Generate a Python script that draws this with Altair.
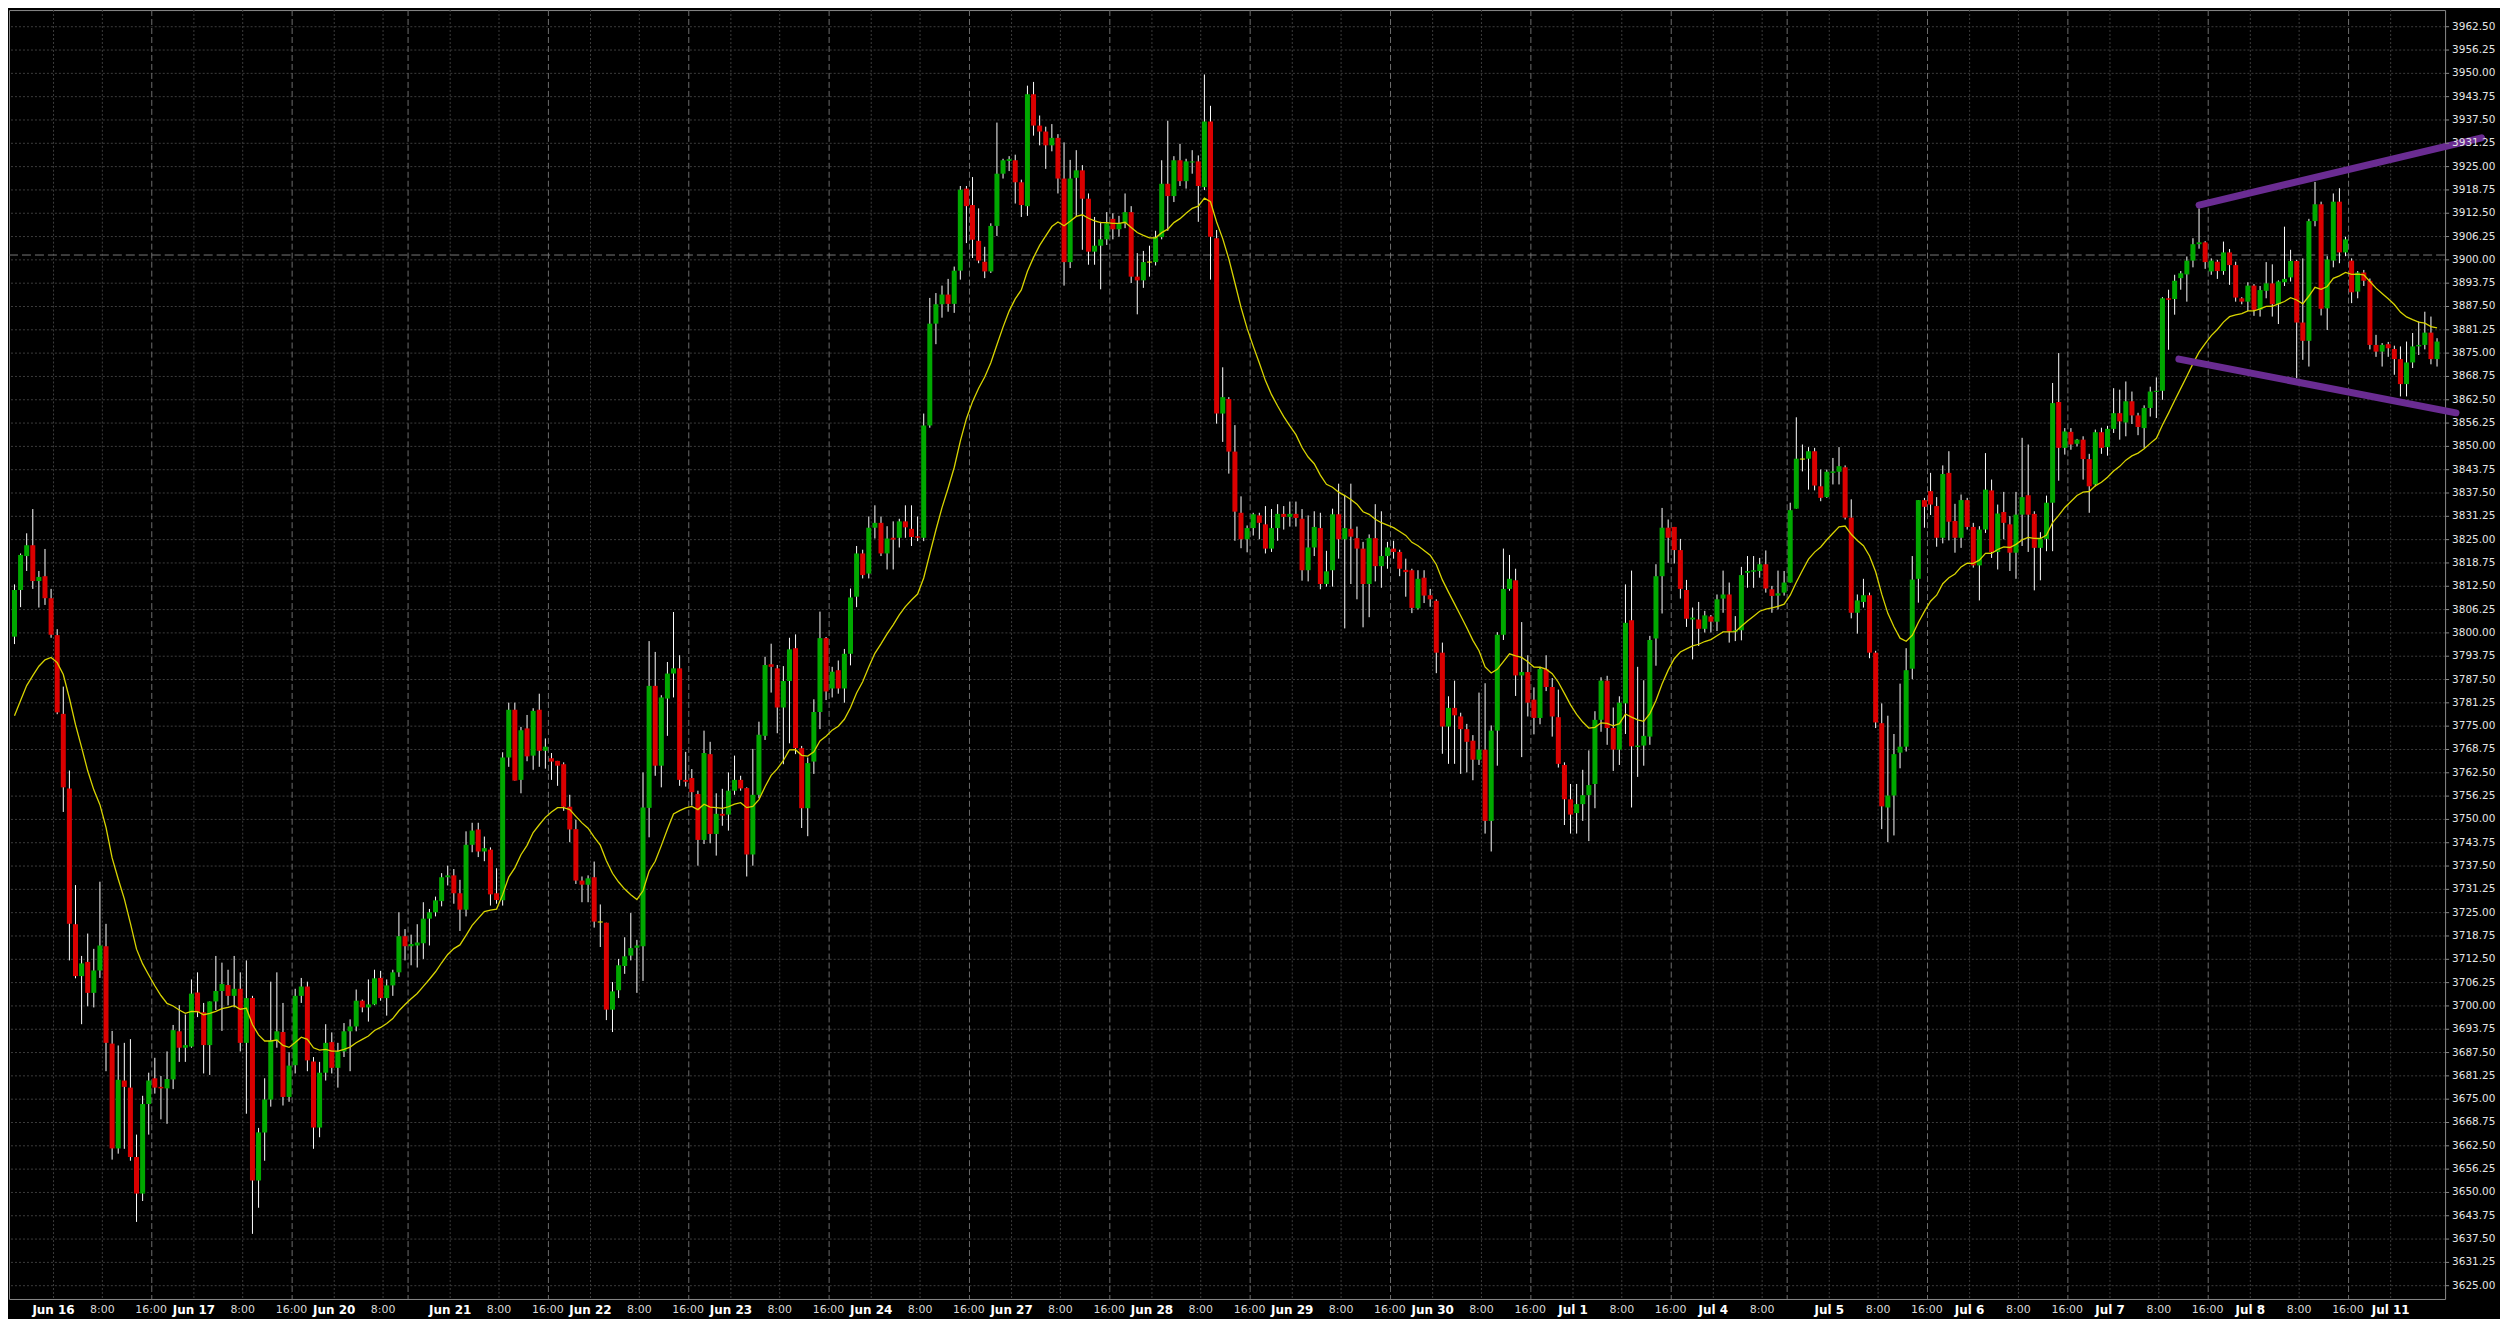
import altair as alt
import pandas as pd

# ---------------- data (hourly bars, index 0..397) ----------------
OPEN = [
    3799.0, 3811.5, 3820.6, 3823.5, 3813.9, 3815.2, 3809.3, 3799.4, 3778.3, 3758.3,
    3721.9, 3708.0, 3711.8, 3703.5, 3709.5, 3716.0, 3689.9, 3661.8, 3680.0, 3678.1,
    3659.5, 3649.7, 3673.7, 3680.6, 3678.3, 3677.9, 3680.3, 3693.2, 3688.8, 3689.1,
    3703.6, 3698.3, 3689.5, 3701.2, 3704.0, 3705.6, 3702.7, 3704.6, 3690.1, 3702.1,
    3653.2, 3666.1, 3674.9, 3690.7, 3693.0, 3675.6, 3684.1, 3702.7, 3705.2, 3685.1,
    3667.4, 3682.1, 3690.3, 3683.4, 3687.8, 3693.2, 3694.5, 3701.4, 3699.6, 3700.4,
    3707.5, 3702.1, 3705.5, 3709.0, 3718.7, 3716.0, 3716.2, 3716.8, 3723.4, 3725.1,
    3728.1, 3734.5, 3735.0, 3730.2, 3725.8, 3743.2, 3747.3, 3741.4, 3741.9, 3730.2,
    3728.3, 3766.6, 3779.4, 3760.6, 3774.4, 3767.1, 3779.4, 3768.4, 3766.4, 3765.7,
    3764.8, 3753.4, 3747.4, 3733.6, 3732.5, 3734.5, 3722.5, 3722.3, 3699.0, 3704.2,
    3710.7, 3713.5, 3715.6, 3716.0, 3753.1, 3785.8, 3764.4, 3782.4, 3789.1, 3790.5,
    3760.6, 3761.1, 3756.8, 3744.5, 3767.5, 3746.1, 3751.5, 3751.3, 3757.7, 3760.6,
    3758.4, 3740.6, 3756.6, 3772.4, 3791.6, 3790.5, 3780.0, 3787.1, 3795.9, 3769.1,
    3753.0, 3765.5, 3778.8, 3798.6, 3785.1, 3790.0, 3785.1, 3794.4, 3809.7, 3821.3,
    3815.9, 3828.2, 3829.5, 3821.3, 3825.5, 3825.5, 3829.9, 3827.9, 3825.9, 3825.5,
    3855.6, 3882.9, 3888.1, 3890.7, 3888.2, 3897.1, 3919.1, 3914.7, 3905.1, 3899.5,
    3896.9, 3909.1, 3923.1, 3926.5, 3926.7, 3920.8, 3914.4, 3944.4, 3936.0, 3934.4,
    3930.7, 3932.7, 3921.8, 3899.4, 3922.0, 3924.0, 3916.4, 3902.2, 3903.8, 3905.5,
    3911.0, 3908.2, 3909.8, 3912.8, 3895.5, 3894.5, 3899.4, 3899.4, 3906.1, 3920.4,
    3917.1, 3926.7, 3921.1, 3926.1, 3926.4, 3919.5, 3937.1, 3905.8, 3858.8, 3862.7,
    3848.6, 3832.2, 3825.1, 3828.1, 3831.5, 3829.1, 3822.6, 3828.1, 3831.9, 3831.1,
    3831.9, 3830.6, 3816.8, 3822.9, 3828.1, 3813.1, 3816.8, 3831.8, 3825.1, 3827.9,
    3825.4, 3822.6, 3813.1, 3825.4, 3817.9, 3820.6, 3822.6, 3821.7, 3816.9, 3816.8,
    3806.6, 3814.8, 3810.1, 3808.6, 3794.7, 3774.9, 3779.9, 3777.6, 3774.2, 3771.1,
    3766.0, 3768.7, 3749.6, 3773.8, 3799.5, 3811.8, 3814.1, 3788.6, 3789.5, 3782.1,
    3777.2, 3790.3, 3785.5, 3777.4, 3764.6, 3755.4, 3751.7, 3754.1, 3756.5, 3759.5,
    3776.7, 3787.2, 3774.5, 3768.7, 3781.1, 3803.4, 3769.4, 3769.8, 3772.2, 3798.5,
    3815.2, 3828.2, 3828.4, 3822.2, 3811.5, 3803.6, 3803.6, 3801.1, 3804.4, 3803.0,
    3809.2, 3810.3, 3800.3, 3800.7, 3816.1, 3816.4, 3816.6, 3818.4, 3811.7, 3810.0,
    3810.8, 3813.5, 3833.3, 3846.6, 3846.7, 3848.7, 3839.3, 3836.4, 3842.9, 3843.2,
    3844.4, 3830.9, 3805.4, 3808.3, 3810.1, 3794.7, 3775.8, 3753.2, 3756.4, 3767.9,
    3769.5, 3790.4, 3814.5, 3835.6, 3838.0, 3834.0, 3825.5, 3842.9, 3830.0, 3825.5,
    3835.6, 3828.4, 3818.1, 3827.7, 3838.2, 3821.7, 3832.4, 3829.1, 3821.5, 3831.7,
    3836.9, 3831.9, 3822.8, 3825.2, 3834.9, 3861.9, 3849.6, 3853.9, 3850.7, 3851.8,
    3846.6, 3839.8, 3853.8, 3849.8, 3854.7, 3858.9, 3856.4, 3862.1, 3858.3, 3854.9,
    3860.3, 3864.6, 3864.9, 3889.7, 3889.5, 3895.1, 3896.1, 3899.8, 3904.2, 3904.7,
    3896.9, 3899.5, 3897.0, 3902.0, 3898.6, 3889.7, 3888.8, 3893.1, 3886.6, 3891.7,
    3893.7, 3888.1, 3894.0, 3895.3, 3899.7, 3883.2, 3878.3, 3910.4, 3914.9, 3887.0,
    3899.8, 3915.6, 3902.0, 3899.8, 3891.5, 3896.6, 3894.4, 3877.2, 3875.4, 3877.4,
    3876.1, 3873.4, 3866.7, 3872.5, 3876.8, 3877.2, 3880.5, 3873.4,
]
HIGH = [
    3813.0, 3821.3, 3826.7, 3833.2, 3816.6, 3822.5, 3811.8, 3801.0, 3785.6, 3763.1,
    3732.4, 3713.4, 3719.4, 3715.3, 3733.3, 3722.0, 3693.3, 3689.4, 3690.1, 3691.1,
    3665.5, 3675.9, 3682.1, 3686.1, 3681.2, 3687.8, 3694.9, 3700.2, 3697.7, 3707.1,
    3709.0, 3700.8, 3701.2, 3713.4, 3711.6, 3709.7, 3713.4, 3709.0, 3712.2, 3702.7,
    3667.3, 3680.6, 3706.5, 3709.0, 3700.8, 3687.6, 3704.6, 3707.5, 3706.5, 3686.3,
    3685.0, 3695.1, 3692.9, 3690.1, 3695.4, 3696.4, 3704.4, 3701.7, 3707.1, 3709.7,
    3709.4, 3707.1, 3709.7, 3725.1, 3720.6, 3719.1, 3721.9, 3727.8, 3726.0, 3729.3,
    3735.6, 3737.6, 3736.7, 3733.8, 3746.8, 3749.1, 3749.1, 3745.4, 3742.5, 3736.9,
    3768.0, 3781.3, 3781.3, 3774.8, 3778.0, 3779.8, 3783.7, 3771.7, 3767.8, 3765.7,
    3765.3, 3756.6, 3749.9, 3734.7, 3735.0, 3738.7, 3727.2, 3722.3, 3706.4, 3712.6,
    3718.4, 3724.9, 3717.7, 3762.6, 3797.8, 3794.9, 3783.3, 3792.2, 3805.6, 3794.0,
    3768.1, 3763.5, 3757.7, 3773.8, 3770.8, 3757.0, 3758.2, 3762.6, 3767.1, 3761.7,
    3758.6, 3768.9, 3776.2, 3793.6, 3797.1, 3791.4, 3791.1, 3798.7, 3799.6, 3769.7,
    3766.6, 3782.2, 3805.7, 3798.9, 3790.9, 3792.6, 3795.7, 3811.9, 3823.3, 3822.3,
    3831.2, 3834.2, 3831.2, 3828.6, 3829.9, 3830.6, 3834.2, 3834.2, 3831.2, 3858.8,
    3889.8, 3891.1, 3893.1, 3894.9, 3898.2, 3919.8, 3919.8, 3922.2, 3913.8, 3903.5,
    3909.8, 3936.8, 3927.1, 3927.8, 3928.2, 3921.5, 3946.7, 3947.7, 3938.7, 3935.7,
    3936.4, 3933.7, 3931.5, 3926.8, 3929.4, 3925.4, 3917.8, 3911.5, 3910.2, 3912.8,
    3912.5, 3911.8, 3917.8, 3914.4, 3901.8, 3902.4, 3903.8, 3907.8, 3926.7, 3937.3,
    3927.8, 3931.1, 3927.1, 3929.4, 3928.0, 3949.7, 3941.3, 3908.0, 3871.2, 3863.2,
    3855.7, 3836.6, 3828.8, 3832.2, 3832.2, 3834.0, 3833.2, 3834.5, 3834.0, 3835.2,
    3835.2, 3833.2, 3831.5, 3832.6, 3832.2, 3822.0, 3833.3, 3840.0, 3837.0, 3840.0,
    3828.5, 3824.4, 3826.4, 3834.5, 3832.6, 3824.4, 3824.7, 3822.3, 3819.9, 3817.2,
    3816.8, 3816.8, 3811.8, 3809.0, 3797.4, 3783.0, 3787.2, 3778.6, 3775.6, 3772.6,
    3784.0, 3786.5, 3775.2, 3800.2, 3822.6, 3820.9, 3817.2, 3802.9, 3794.0, 3785.4,
    3790.9, 3794.0, 3787.9, 3784.8, 3765.3, 3759.5, 3759.5, 3763.3, 3768.5, 3779.0,
    3788.1, 3788.5, 3780.0, 3783.0, 3813.0, 3816.7, 3790.9, 3787.3, 3799.2, 3818.4,
    3833.5, 3830.4, 3828.4, 3825.2, 3814.2, 3806.8, 3808.3, 3805.9, 3804.8, 3810.3,
    3816.7, 3813.5, 3804.5, 3817.7, 3820.6, 3820.6, 3820.1, 3822.1, 3812.6, 3816.7,
    3816.6, 3834.9, 3857.8, 3850.5, 3849.8, 3849.6, 3843.8, 3843.8, 3846.9, 3849.8,
    3844.9, 3835.8, 3810.3, 3814.5, 3810.8, 3795.2, 3781.1, 3777.8, 3772.9, 3786.4,
    3795.9, 3820.6, 3835.6, 3836.2, 3842.9, 3836.4, 3844.9, 3848.7, 3834.6, 3837.1,
    3836.2, 3829.5, 3828.6, 3848.2, 3841.1, 3834.4, 3837.8, 3831.3, 3837.8, 3852.3,
    3850.5, 3832.6, 3827.0, 3836.8, 3867.0, 3875.0, 3854.9, 3854.9, 3852.0, 3852.7,
    3848.0, 3854.5, 3855.0, 3855.5, 3865.6, 3865.2, 3867.4, 3864.7, 3859.0, 3861.0,
    3866.0, 3868.5, 3890.0, 3892.0, 3896.0, 3897.0, 3900.9, 3905.8, 3913.8, 3905.0,
    3900.4, 3900.0, 3904.9, 3902.9, 3899.5, 3890.0, 3894.0, 3893.5, 3893.0, 3899.4,
    3898.8, 3894.5, 3908.9, 3902.7, 3900.0, 3900.4, 3911.0, 3920.9, 3915.6, 3901.0,
    3917.8, 3919.2, 3906.2, 3900.4, 3897.0, 3897.3, 3895.0, 3879.9, 3877.7, 3878.0,
    3877.0, 3876.8, 3878.1, 3880.4, 3883.5, 3886.1, 3884.8, 3879.0,
]
LOW = [
    3797.0, 3806.9, 3816.6, 3811.8, 3806.8, 3807.5, 3798.7, 3778.2, 3752.0, 3712.2,
    3707.4, 3695.1, 3699.9, 3699.6, 3707.5, 3682.5, 3658.8, 3660.4, 3661.7, 3658.5,
    3642.1, 3647.7, 3665.5, 3676.5, 3669.6, 3668.4, 3677.7, 3685.0, 3685.0, 3688.8,
    3697.0, 3681.9, 3681.5, 3698.9, 3693.3, 3700.2, 3699.6, 3687.8, 3671.1, 3638.9,
    3645.9, 3658.5, 3673.0, 3688.8, 3673.3, 3674.3, 3681.9, 3700.8, 3682.5, 3661.7,
    3664.8, 3680.0, 3681.9, 3678.1, 3686.3, 3682.5, 3693.2, 3698.3, 3695.8, 3700.2,
    3701.4, 3697.4, 3702.7, 3707.8, 3712.2, 3710.9, 3710.3, 3712.6, 3716.2, 3724.0,
    3726.7, 3732.3, 3727.4, 3720.1, 3724.0, 3741.2, 3739.9, 3738.8, 3726.9, 3727.4,
    3726.9, 3764.1, 3760.4, 3757.0, 3765.6, 3763.3, 3764.1, 3763.6, 3760.6, 3759.0,
    3752.3, 3743.9, 3732.7, 3727.8, 3727.8, 3721.0, 3715.8, 3696.2, 3693.0, 3702.1,
    3708.6, 3712.2, 3703.5, 3706.7, 3745.2, 3761.7, 3758.6, 3772.4, 3782.7, 3759.0,
    3758.8, 3753.7, 3737.6, 3743.4, 3743.6, 3740.3, 3748.3, 3747.0, 3756.6, 3757.7,
    3734.7, 3737.6, 3755.7, 3771.3, 3784.0, 3773.1, 3764.8, 3770.4, 3767.5, 3747.7,
    3745.5, 3762.2, 3774.2, 3782.0, 3782.7, 3783.7, 3781.3, 3791.3, 3806.9, 3814.6,
    3814.6, 3825.3, 3820.6, 3817.0, 3817.0, 3822.9, 3825.5, 3823.3, 3824.6, 3824.6,
    3855.0, 3877.4, 3884.5, 3886.1, 3885.8, 3894.7, 3904.5, 3900.5, 3899.1, 3895.1,
    3896.5, 3906.4, 3921.8, 3923.8, 3915.1, 3911.5, 3911.8, 3933.3, 3930.7, 3924.4,
    3929.1, 3917.8, 3893.1, 3897.8, 3911.8, 3902.7, 3898.7, 3898.7, 3892.1, 3904.0,
    3905.5, 3906.2, 3908.5, 3893.8, 3885.4, 3892.5, 3895.5, 3898.5, 3905.5, 3907.8,
    3915.5, 3919.8, 3919.1, 3923.1, 3910.2, 3918.7, 3894.7, 3856.1, 3851.2, 3842.7,
    3824.7, 3822.7, 3821.6, 3826.1, 3825.1, 3821.3, 3821.7, 3824.7, 3827.7, 3828.5,
    3828.5, 3814.0, 3813.8, 3820.6, 3811.7, 3812.4, 3812.4, 3819.9, 3801.2, 3813.1,
    3809.0, 3801.5, 3804.2, 3813.8, 3812.1, 3817.2, 3819.9, 3815.2, 3809.7, 3805.3,
    3806.3, 3808.0, 3807.0, 3789.2, 3767.6, 3764.9, 3764.9, 3762.2, 3762.6, 3760.5,
    3764.6, 3746.2, 3741.4, 3764.4, 3798.1, 3811.3, 3783.1, 3766.7, 3777.6, 3772.8,
    3775.5, 3784.4, 3772.2, 3763.9, 3748.5, 3746.2, 3746.2, 3749.6, 3744.2, 3753.0,
    3773.5, 3770.0, 3763.0, 3764.6, 3772.9, 3753.2, 3761.4, 3764.4, 3770.0, 3791.2,
    3805.2, 3818.8, 3818.6, 3809.2, 3801.6, 3792.9, 3796.5, 3800.1, 3800.1, 3800.5,
    3805.4, 3797.4, 3797.8, 3798.0, 3812.1, 3812.1, 3814.8, 3810.8, 3805.4, 3806.3,
    3810.0, 3813.5, 3833.3, 3843.3, 3838.4, 3838.2, 3835.3, 3836.2, 3839.8, 3839.8,
    3830.4, 3803.9, 3799.8, 3806.8, 3793.2, 3774.5, 3747.4, 3743.9, 3745.7, 3763.7,
    3768.2, 3787.6, 3808.1, 3828.2, 3831.6, 3823.1, 3824.0, 3824.8, 3821.5, 3822.8,
    3827.7, 3817.5, 3808.7, 3826.8, 3820.1, 3817.0, 3825.1, 3816.6, 3814.5, 3823.3,
    3821.7, 3811.4, 3814.1, 3821.9, 3821.9, 3840.8, 3847.8, 3849.1, 3850.0, 3841.1,
    3832.2, 3839.3, 3848.0, 3847.5, 3853.6, 3851.8, 3852.7, 3856.0, 3853.0, 3849.6,
    3858.0, 3857.6, 3862.5, 3875.9, 3885.3, 3892.0, 3888.8, 3898.0, 3903.0, 3897.6,
    3896.0, 3894.9, 3896.0, 3893.3, 3888.8, 3888.1, 3886.3, 3885.0, 3884.8, 3889.7,
    3884.8, 3882.8, 3893.0, 3894.2, 3868.3, 3873.2, 3871.4, 3909.0, 3885.1, 3881.2,
    3898.0, 3899.1, 3901.0, 3888.4, 3889.7, 3893.0, 3876.0, 3874.0, 3871.4, 3874.0,
    3869.2, 3863.4, 3863.4, 3871.0, 3874.5, 3876.0, 3872.0, 3871.4,
]
CLOSE = [
    3811.5, 3820.9, 3823.5, 3813.9, 3815.0, 3809.3, 3799.5, 3778.7, 3758.6, 3722.0,
    3708.0, 3711.4, 3703.5, 3709.5, 3716.2, 3690.1, 3661.8, 3680.2, 3678.3, 3659.5,
    3649.7, 3673.7, 3680.0, 3678.1, 3677.9, 3680.4, 3693.5, 3688.8, 3689.5, 3703.3,
    3698.3, 3689.5, 3701.2, 3704.0, 3705.9, 3702.7, 3704.6, 3690.1, 3702.1, 3653.2,
    3666.1, 3674.9, 3690.7, 3693.2, 3675.6, 3684.0, 3702.7, 3705.2, 3685.4, 3667.4,
    3682.1, 3690.1, 3683.4, 3687.8, 3693.2, 3694.5, 3701.4, 3699.6, 3700.4, 3707.4,
    3702.1, 3705.5, 3709.0, 3718.7, 3716.0, 3716.6, 3717.0, 3723.4, 3725.1, 3728.3,
    3734.5, 3735.0, 3730.2, 3725.8, 3743.2, 3747.0, 3741.4, 3742.3, 3729.9, 3728.4,
    3766.6, 3779.4, 3760.4, 3773.9, 3766.9, 3779.1, 3768.4, 3769.5, 3765.5, 3764.4,
    3753.4, 3747.3, 3733.6, 3732.5, 3734.2, 3722.6, 3722.5, 3699.0, 3703.9, 3710.9,
    3713.3, 3715.5, 3716.2, 3753.2, 3785.8, 3764.4, 3782.7, 3789.1, 3790.5, 3760.6,
    3760.1, 3757.3, 3744.5, 3767.8, 3746.1, 3751.5, 3751.0, 3757.7, 3760.6, 3758.3,
    3740.6, 3756.6, 3772.7, 3791.4, 3790.9, 3780.0, 3787.1, 3795.6, 3769.1, 3753.0,
    3765.1, 3778.8, 3798.6, 3784.3, 3789.6, 3785.1, 3794.4, 3809.5, 3821.3, 3815.5,
    3828.2, 3829.5, 3821.3, 3825.3, 3825.0, 3829.9, 3828.3, 3825.7, 3825.5, 3855.6,
    3882.9, 3888.1, 3890.7, 3888.2, 3897.1, 3918.8, 3914.4, 3905.4, 3899.8, 3896.9,
    3909.1, 3923.1, 3926.7, 3927.0, 3920.8, 3914.7, 3944.4, 3936.0, 3934.4, 3930.7,
    3932.7, 3921.8, 3899.4, 3921.8, 3924.0, 3916.4, 3902.2, 3903.8, 3905.5, 3909.8,
    3908.2, 3909.8, 3912.8, 3895.5, 3894.5, 3899.4, 3899.4, 3906.1, 3920.4, 3917.1,
    3926.7, 3921.1, 3926.4, 3926.4, 3919.8, 3937.1, 3906.2, 3858.8, 3863.2, 3848.6,
    3832.5, 3825.1, 3828.1, 3831.8, 3829.5, 3822.6, 3828.1, 3831.9, 3831.1, 3831.9,
    3830.8, 3816.8, 3822.9, 3828.4, 3813.1, 3816.5, 3831.8, 3825.1, 3828.1, 3825.8,
    3822.6, 3813.1, 3825.4, 3817.9, 3820.6, 3822.9, 3821.7, 3817.2, 3816.3, 3806.7,
    3814.5, 3810.0, 3809.0, 3794.7, 3774.9, 3779.9, 3777.9, 3774.2, 3770.8, 3766.0,
    3768.7, 3749.6, 3773.8, 3799.5, 3811.8, 3814.5, 3788.6, 3789.5, 3781.3, 3777.2,
    3790.3, 3785.5, 3777.6, 3764.9, 3755.4, 3751.3, 3754.1, 3756.5, 3759.2, 3776.7,
    3787.2, 3774.5, 3768.7, 3781.3, 3802.7, 3769.6, 3769.8, 3772.4, 3798.1, 3815.2,
    3828.2, 3825.5, 3822.2, 3811.8, 3803.8, 3804.1, 3801.1, 3804.7, 3803.0, 3809.0,
    3810.3, 3800.4, 3800.7, 3815.5, 3816.6, 3816.8, 3818.4, 3811.9, 3809.9, 3810.6,
    3813.5, 3832.9, 3846.7, 3846.6, 3848.7, 3839.5, 3836.2, 3843.2, 3843.3, 3844.7,
    3830.9, 3805.4, 3808.7, 3810.1, 3794.7, 3776.0, 3753.5, 3756.4, 3767.5, 3769.5,
    3790.0, 3814.3, 3835.6, 3833.8, 3834.4, 3825.5, 3842.6, 3829.8, 3825.5, 3835.6,
    3828.4, 3818.1, 3827.7, 3838.4, 3821.7, 3832.0, 3829.5, 3821.5, 3831.7, 3836.4,
    3831.7, 3822.8, 3825.2, 3834.9, 3861.6, 3849.6, 3854.0, 3850.5, 3851.8, 3846.6,
    3839.3, 3853.8, 3849.6, 3854.7, 3858.9, 3856.7, 3862.1, 3858.3, 3855.2, 3860.3,
    3864.7, 3864.9, 3889.7, 3889.3, 3894.4, 3896.4, 3899.8, 3904.2, 3904.7, 3899.4,
    3899.8, 3897.0, 3902.0, 3898.6, 3889.9, 3888.8, 3893.1, 3886.6, 3891.9, 3893.7,
    3888.1, 3894.2, 3894.9, 3899.7, 3883.2, 3878.3, 3910.4, 3914.9, 3886.9, 3900.1,
    3915.6, 3902.0, 3905.5, 3891.3, 3896.6, 3894.4, 3877.2, 3875.4, 3877.2, 3876.3,
    3873.4, 3866.7, 3872.5, 3876.8, 3877.2, 3880.5, 3873.4, 3878.1,
]

# moving-average indicator: exponential MA of the closes, period 20,
# starting from the value shown at the first visible bar
MA_PERIOD = 20
MA_START = 3777.8

# time axis: bar index of each label and its text
X_LABEL_POS = [6, 14, 22, 29, 37, 45, 52, 60, 71, 79, 87, 94, 102, 110, 117, 125, 133,
               140, 148, 156, 163, 171, 179, 186, 194, 202, 209, 217, 225, 232, 240, 248,
               255, 263, 271, 278, 286, 297, 305, 313, 320, 328, 336, 343, 351, 359, 366,
               374, 382, 389]
X_LABEL_TEXT = ["Jun 16", "8:00", "16:00", "Jun 17", "8:00", "16:00", "Jun 20", "8:00",
                "Jun 21", "8:00", "16:00", "Jun 22", "8:00", "16:00", "Jun 23", "8:00", "16:00",
                "Jun 24", "8:00", "16:00", "Jun 27", "8:00", "16:00", "Jun 28", "8:00", "16:00",
                "Jun 29", "8:00", "16:00", "Jun 30", "8:00", "16:00", "Jul 1", "8:00", "16:00",
                "Jul 4", "8:00", "Jul 5", "8:00", "16:00", "Jul 6", "8:00", "16:00",
                "Jul 7", "8:00", "16:00", "Jul 8", "8:00", "16:00", "Jul 11"]
# session separators (last bar before each trading break)
SEPARATOR_BARS = [22, 45, 64, 87, 110, 133, 156, 179, 202, 225, 248, 271, 290, 313, 336, 359, 382]

Y_TICKS = [3625.0, 3631.25, 3637.5, 3643.75, 3650.0, 3656.25, 3662.5, 3668.75, 3675.0,
           3681.25, 3687.5, 3693.75, 3700.0, 3706.25, 3712.5, 3718.75, 3725.0, 3731.25,
           3737.5, 3743.75, 3750.0, 3756.25, 3762.5, 3768.75, 3775.0, 3781.25, 3787.5,
           3793.75, 3800.0, 3806.25, 3812.5, 3818.75, 3825.0, 3831.25, 3837.5, 3843.75,
           3850.0, 3856.25, 3862.5, 3868.75, 3875.0, 3881.25, 3887.5, 3893.75, 3900.0,
           3906.25, 3912.5, 3918.75, 3925.0, 3931.25, 3937.5, 3943.75, 3950.0, 3956.25,
           3962.5]

# drawn trend lines (bar index, price)
TL_X1 = [358.0, 354.7]
TL_P1 = [3914.7, 3873.4]
TL_X2 = [404.3, 400.1]
TL_P2 = [3932.7, 3859.0]

# horizontal dashed price line
HLINE_PRICE = [3901.3]

# ---------------- build tables ----------------
N = len(CLOSE)
k = 2.0 / (MA_PERIOD + 1)
ma = [MA_START]
for cl in CLOSE[1:]:
    ma.append(ma[-1] + k * (cl - ma[-1]))

df = pd.DataFrame({"i": list(range(N)), "o": OPEN, "h": HIGH, "l": LOW, "c": CLOSE, "ma": ma})
lab = pd.DataFrame({"pos": X_LABEL_POS, "t": X_LABEL_TEXT})
sep = pd.DataFrame({"b": SEPARATOR_BARS})
tl = pd.DataFrame({"x1": TL_X1, "p1": TL_P1, "x2": TL_X2, "p2": TL_P2})
hl = pd.DataFrame({"p": HLINE_PRICE})
yt = pd.DataFrame({"p": Y_TICKS})

W, H = 2440, 1291
xscale = alt.Scale(domain=[-0.08, 397.5], nice=False, zero=False)
yscale = alt.Scale(domain=[3621.44, 3966.97], nice=False, zero=False)

GREEN = "#00a800"
RED = "#da0000"
DOJI = "#e8e800"
MA_COL = "#d8d400"
PURPLE = "#6a2c92"
GRID = "#3c3c3c"
SEP = "#6c6c6c"


def X(field):
    return alt.X(field, scale=xscale, axis=None)


def Y(field):
    return alt.Y(field, scale=yscale, axis=None)


# horizontal grid at the price ticks
hgrid = alt.Chart(yt).mark_rule(color=GRID, strokeWidth=1, strokeDash=[2, 2]).encode(y=Y("p:Q"))

# dim vertical grid at day / 8:00 labels
vgrid = alt.Chart(lab).transform_filter("datum.t != '16:00'").transform_calculate(
    gx="datum.pos + 0.4").mark_rule(color=GRID, strokeWidth=1, strokeDash=[2, 2]).encode(x=X("gx:Q"))

# session separators
seps = alt.Chart(sep).transform_calculate(gx="datum.b + 0.5").mark_rule(
    color=SEP, strokeWidth=1, strokeDash=[6, 3]).encode(x=X("gx:Q"))

hline = alt.Chart(hl).mark_rule(color="#777777", strokeWidth=1, strokeDash=[9, 4]).encode(y=Y("p:Q"))

wicks = alt.Chart(df).mark_rule(color="#ffffff", strokeWidth=1, clip=True).encode(
    x=X("i:Q"), y=Y("l:Q"), y2="h:Q")

bodies = alt.Chart(df).transform_filter("datum.o != datum.c").mark_bar(size=5, clip=True).encode(
    x=X("i:Q"), y=Y("o:Q"), y2="c:Q",
    color=alt.condition("datum.c > datum.o", alt.value(GREEN), alt.value(RED)))

dojis = alt.Chart(df).transform_filter("datum.o == datum.c").mark_tick(
    orient="horizontal", size=5, thickness=1.5, color=DOJI, clip=True).encode(
    x=X("i:Q"), y=Y("o:Q"))

maline = alt.Chart(df).mark_line(color=MA_COL, strokeWidth=1.3, clip=True).encode(
    x=X("i:Q"), y=Y("ma:Q"))

tlines = alt.Chart(tl).mark_rule(color=PURPLE, strokeWidth=7, strokeCap="round", clip=False).encode(
    x=X("x1:Q"), x2="x2:Q", y=Y("p1:Q"), y2="p2:Q")

# price scale on the right
yticks = alt.Chart(yt).mark_rule(color="#8a8a8a", strokeWidth=1).encode(
    x=alt.value(W), x2=alt.value(W + 4), y=Y("p:Q"))
ylabels = alt.Chart(yt).mark_text(
    font="DejaVu Sans", fontSize=10.5, color="#e4e4e4", align="left", baseline="middle").encode(
    x=alt.value(W + 7), y=Y("p:Q"), text=alt.Text("p:Q", format=".2f"))

# time labels
day_labels = alt.Chart(lab).transform_filter("indexof(datum.t, ':') < 0").transform_calculate(
    gx="datum.pos + 0.4").mark_text(
    font="DejaVu Sans", fontSize=12, fontWeight="bold", color="#ffffff",
    align="center", baseline="middle").encode(
    x=X("gx:Q"), y=alt.value(H + 11), text="t:N")

hour_labels = alt.Chart(lab).transform_filter("indexof(datum.t, ':') >= 0").transform_calculate(
    gx="datum.pos + 0.4").mark_text(
    font="DejaVu Sans", fontSize=11, color="#dadada",
    align="center", baseline="middle").encode(
    x=X("gx:Q"), y=alt.value(H + 11), text="t:N")

chart = alt.layer(hgrid, vgrid, seps, hline, wicks, bodies, dojis, maline, tlines,
                  yticks, ylabels, day_labels, hour_labels).properties(
    width=W, height=H,
    padding={"left": 0, "top": 0, "right": 4, "bottom": 2},
).configure(background="#000000").configure_view(stroke="#8a8a8a", strokeWidth=1, fill="#000000")

chart.save("out.html", embed_options={"renderer": "svg", "actions": False})
